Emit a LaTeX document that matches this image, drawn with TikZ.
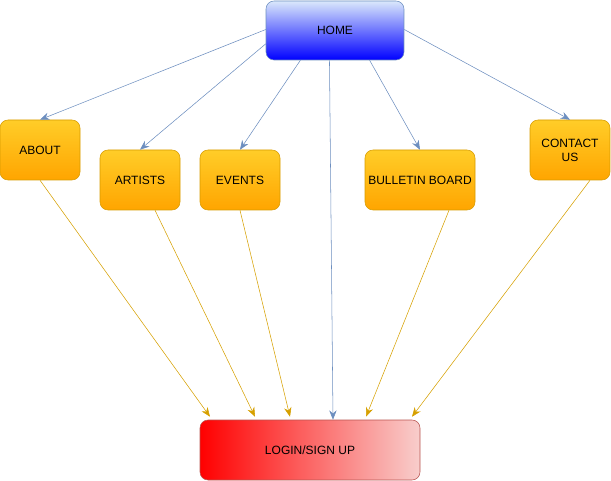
\documentclass[tikz,border=0pt]{standalone}
\usepackage{fontspec}
\setmainfont{Liberation Sans}
\usetikzlibrary{arrows.meta,calc}
\definecolor{bluestroke}{HTML}{6C8EBF}
\definecolor{bluetop}{HTML}{DAE8FC}
\definecolor{orstroke}{HTML}{D79B00}
\definecolor{ortop}{HTML}{FFCD28}
\definecolor{orbot}{HTML}{FFA500}
\definecolor{redstroke}{HTML}{B85450}
\definecolor{redright}{HTML}{F8CECC}
\definecolor{orline}{HTML}{D6A000}
\begin{document}
\begin{tikzpicture}[x=0.75pt,y=-0.75pt,
  box/.style={draw, rounded corners=6pt, font=\fontsize{9pt}{10.5pt}\selectfont, align=center, inner sep=0pt},
  orbox/.style={box, draw=orstroke, top color=ortop, bottom color=orbot, minimum width=60pt, minimum height=45pt},
  bluearr/.style={draw=bluestroke, -{Stealth[length=7pt,width=5.5pt]}},
  orarr/.style={draw=orline, -{Stealth[length=7pt,width=5.5pt]}}]
\useasboundingbox (0,0) rectangle (611,481);
\node[box, draw=bluestroke, top color=bluetop, bottom color=blue, minimum width=103.5pt, minimum height=44.25pt] (home) at (335,30.5) {HOME};
\node[orbox] (about) at (40,150) {ABOUT};
\node[orbox] (artists) at (140,180) {ARTISTS};
\node[orbox] (events) at (240,180) {EVENTS};
\node[orbox, minimum width=82.5pt] (bulletin) at (420,180) {BULLETIN BOARD};
\node[orbox] (contact) at (570,150) {CONTACT\\US};
\node[box, draw=redstroke, left color=red, right color=redright, minimum width=165pt, minimum height=45pt] (login) at (310,450) {LOGIN/SIGN UP};
% blue connectors
\draw[bluearr] ([yshift=0.75pt]home.west) -- (about.north);
\draw[bluearr] ([yshift=-10pt]home.west) -- (artists.north);
\draw[bluearr] ($(home.south west)!0.25!(home.south east)$) -- (events.north);
\draw[bluearr] ($(home.south west)!0.46!(home.south east)$) -- ([xshift=17.25pt]login.north);
\draw[bluearr] ($(home.south west)!0.75!(home.south east)$) -- (bulletin.north);
\draw[bluearr] ([yshift=0.75pt]home.east) -- (contact.north);
% orange connectors
\draw[orarr] (about.south) -- ([xshift=-75pt,yshift=2.25pt]login.north);
\draw[orarr] ([xshift=11.25pt]artists.south) -- ([xshift=-41.25pt,yshift=2.25pt]login.north);
\draw[orarr] (events.south) -- ([xshift=-15pt,yshift=2.25pt]login.north);
\draw[orarr] ([xshift=21.75pt]bulletin.south) -- ([xshift=42pt,yshift=2.25pt]login.north);
\draw[orarr] ([xshift=15pt]contact.south) -- ([xshift=76.5pt,yshift=2.25pt]login.north);
\end{tikzpicture}
\end{document}
